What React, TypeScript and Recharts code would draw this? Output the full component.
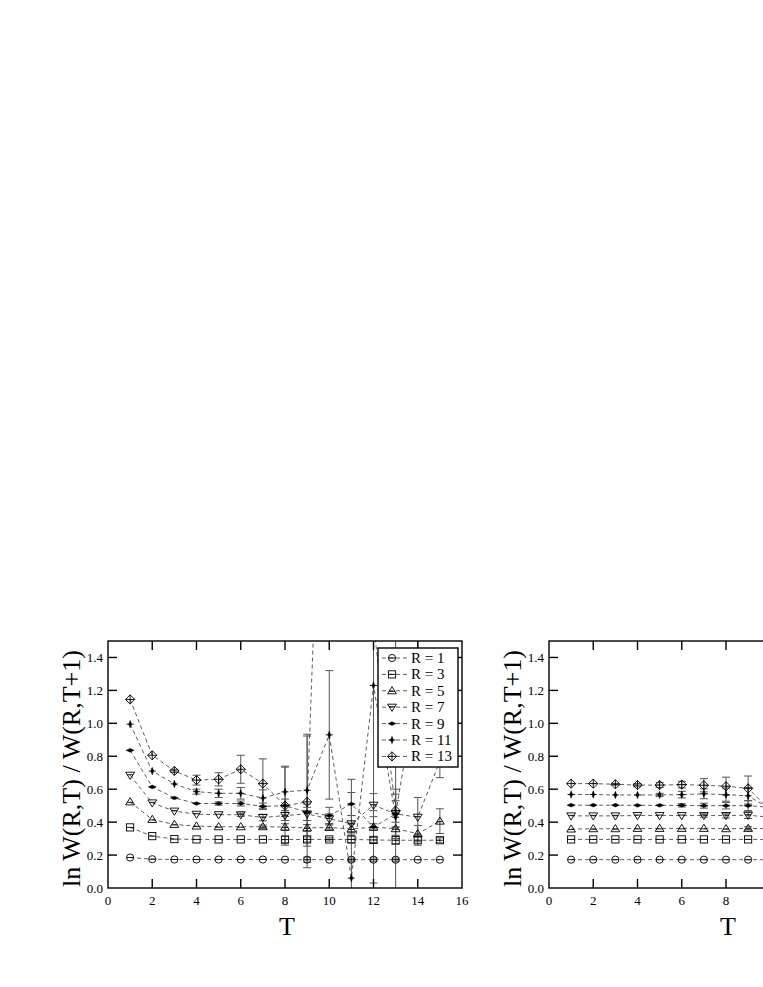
import React from "react";
import { LineChart, Line, XAxis, YAxis, ErrorBar } from "recharts";

// ---- data ----
const T_LEFT = [1, 2, 3, 4, 5, 6, 7, 8, 9, 10, 11, 12, 13, 14, 15];
const LEFT_R1 = [0.185, 0.175, 0.173, 0.173, 0.173, 0.173, 0.173, 0.172, 0.172, 0.172, 0.172, 0.172, 0.172, 0.172, 0.172];
const LEFT_R3 = [0.368, 0.315, 0.297, 0.295, 0.295, 0.295, 0.295, 0.294, 0.295, 0.295, 0.295, 0.292, 0.29, 0.29, 0.29];
const LEFT_R5 = [0.523, 0.416, 0.386, 0.376, 0.372, 0.372, 0.372, 0.37, 0.365, 0.368, 0.358, 0.37, 0.36, 0.33, 0.406];
const LEFT_R7 = [0.685, 0.517, 0.467, 0.448, 0.445, 0.445, 0.428, 0.44, 0.45, 0.42, 0.39, 0.503, 0.45, 0.43, 0.77];
const LEFT_R9 = [0.836, 0.614, 0.547, 0.513, 0.513, 0.513, 0.496, 0.5, 0.46, 0.44, 0.51, 0.37, 0.45, 1.25, null];
const LEFT_R11 = [0.995, 0.71, 0.632, 0.585, 0.575, 0.575, 0.546, 0.584, 0.594, 0.93, 0.06, 1.23, 0.43, null, null];
const LEFT_R13 = [1.145, 0.806, 0.711, 0.655, 0.66, 0.721, 0.634, 0.5, 0.523, 4.1, null, 1.6, 0.47, null, null];

const LEFT_E1 = [0, 0, 0, 0, 0, 0, 0, 0, 0.015, 0, 0.01, 0.01, 0.01, 0, 0];
const LEFT_E3 = [0, 0, 0, 0, 0, 0, 0, 0.02, 0.015, 0.01, 0.02, 0.015, 0.025, 0.03, 0.015];
const LEFT_E5 = [0, 0, 0, 0, 0, 0, 0.01, 0.02, 0.02, 0.015, 0.03, 0.02, 0.04, 0.05, 0.075];
const LEFT_E7 = [0, 0, 0, 0, 0, 0.01, 0.02, 0.03, 0.04, 0.03, 0.05, 0.07, 0.08, 0.12, 0.1];
const LEFT_E9 = [0, 0, 0, 0, 0.01, 0.015, 0.02, 0.04, 0.05, 0.05, 0.07, 0.1, 0.15, 0.3, null];
const LEFT_E11 = [0, 0, 0, 0.015, 0.025, 0.035, 0.05, 0.15, 0.34, 0.39, 0.6, 1.2, 1.2, null, null];
const LEFT_E13 = [0, 0, 0.01, 0.03, 0.04, 0.085, 0.15, 0.24, 0.4, 0, null, 0, 0.1, null, null];

const T_RIGHT = [1, 2, 3, 4, 5, 6, 7, 8, 9, 10];
const RIGHT_R1 = [0.172, 0.172, 0.172, 0.172, 0.172, 0.172, 0.172, 0.172, 0.172, 0.172];
const RIGHT_R3 = [0.295, 0.295, 0.295, 0.295, 0.295, 0.295, 0.295, 0.295, 0.295, 0.295];
const RIGHT_R5 = [0.358, 0.36, 0.36, 0.362, 0.362, 0.362, 0.362, 0.36, 0.362, 0.36];
const RIGHT_R7 = [0.438, 0.438, 0.438, 0.44, 0.44, 0.44, 0.44, 0.44, 0.442, 0.43];
const RIGHT_R9 = [0.503, 0.503, 0.503, 0.502, 0.502, 0.502, 0.5, 0.5, 0.5, 0.49];
const RIGHT_R11 = [0.568, 0.568, 0.565, 0.565, 0.565, 0.567, 0.572, 0.567, 0.56, 0.48];
const RIGHT_R13 = [0.634, 0.634, 0.63, 0.625, 0.625, 0.628, 0.624, 0.618, 0.605, 0.47];

const RIGHT_E1 = [0, 0, 0, 0, 0, 0, 0, 0, 0, 0];
const RIGHT_E3 = [0, 0, 0, 0, 0, 0, 0, 0, 0, 0];
const RIGHT_E5 = [0, 0, 0, 0, 0, 0, 0, 0, 0.01, 0.02];
const RIGHT_E7 = [0, 0, 0, 0, 0, 0, 0.01, 0.015, 0.02, 0.03];
const RIGHT_E9 = [0, 0, 0, 0, 0, 0.01, 0.015, 0.02, 0.03, 0.04];
const RIGHT_E11 = [0, 0, 0, 0, 0.01, 0.02, 0.03, 0.04, 0.05, 0.06];
const RIGHT_E13 = [0, 0, 0.005, 0.01, 0.015, 0.02, 0.04, 0.055, 0.075, 0.09];

const X_TICKS = [0, 2, 4, 6, 8, 10, 12, 14, 16];
const Y_TICKS = [0, 0.2, 0.4, 0.6, 0.8, 1.0, 1.2, 1.4];
const X_DOMAIN = [0, 16];
const Y_DOMAIN = [0, 1.5];
const Y_TITLE = "ln W(R,T) / W(R,T+1)";
const X_TITLE = "T";

const SERIES = [
  { key: "r1", name: "R = 1", shape: "circle" },
  { key: "r3", name: "R = 3", shape: "square" },
  { key: "r5", name: "R = 5", shape: "up" },
  { key: "r7", name: "R = 7", shape: "down" },
  { key: "r9", name: "R = 9", shape: "flat" },
  { key: "r11", name: "R = 11", shape: "tall" },
  { key: "r13", name: "R = 13", shape: "diamond" },
];

const buildRows = (ts: number[], values: (number | null)[][], errors: (number | null)[][]) =>
  ts.map((t, i) => {
    const row: any = { T: t };
    SERIES.forEach((s, k) => {
      row[s.key] = values[k][i];
      row["e_" + s.key] = errors[k][i];
    });
    return row;
  });

const leftRows = buildRows(
  T_LEFT,
  [LEFT_R1, LEFT_R3, LEFT_R5, LEFT_R7, LEFT_R9, LEFT_R11, LEFT_R13],
  [LEFT_E1, LEFT_E3, LEFT_E5, LEFT_E7, LEFT_E9, LEFT_E11, LEFT_E13]
);
const rightRows = buildRows(
  T_RIGHT,
  [RIGHT_R1, RIGHT_R3, RIGHT_R5, RIGHT_R7, RIGHT_R9, RIGHT_R11, RIGHT_R13],
  [RIGHT_E1, RIGHT_E3, RIGHT_E5, RIGHT_E7, RIGHT_E9, RIGHT_E11, RIGHT_E13]
);

const INK = "#000";
const FONT = "'Liberation Serif', 'DejaVu Serif', serif";

function Marker({ shape, cx, cy }: { shape: string; cx: number; cy: number }) {
  const st = { fill: "none", stroke: INK, strokeWidth: 0.9 };
  const hl = (w: number, dy = 0) => (
    <line x1={cx - w} x2={cx + w} y1={cy + dy} y2={cy + dy} stroke={INK} strokeWidth={0.9} />
  );
  switch (shape) {
    case "circle":
      return (
        <g>
          <circle cx={cx} cy={cy} r={3.6} {...st} />
          {hl(3.6)}
        </g>
      );
    case "square":
      return (
        <g>
          <rect x={cx - 3.6} y={cy - 3.6} width={7.2} height={7.2} {...st} />
          {hl(3.6)}
        </g>
      );
    case "up":
      return (
        <g>
          <polygon points={`${cx},${cy - 4.2} ${cx + 4.4},${cy + 3} ${cx - 4.4},${cy + 3}`} {...st} />
          {hl(3, 0.5)}
        </g>
      );
    case "down":
      return (
        <g>
          <polygon points={`${cx - 4.4},${cy - 3} ${cx + 4.4},${cy - 3} ${cx},${cy + 4.2}`} {...st} />
          {hl(3, -0.5)}
        </g>
      );
    case "flat":
      return (
        <polygon
          points={`${cx - 4},${cy} ${cx},${cy - 1.8} ${cx + 4},${cy} ${cx},${cy + 1.8}`}
          fill={INK}
          stroke={INK}
          strokeWidth={0.5}
        />
      );
    case "tall":
      return (
        <g>
          <polygon
            points={`${cx},${cy - 3.8} ${cx + 1.5},${cy} ${cx},${cy + 3.8} ${cx - 1.5},${cy}`}
            fill={INK}
            stroke={INK}
            strokeWidth={0.4}
          />
          {hl(3.5)}
        </g>
      );
    default:
      return (
        <g>
          <polygon points={`${cx},${cy - 4.6} ${cx + 4.6},${cy} ${cx},${cy + 4.6} ${cx - 4.6},${cy}`} {...st} />
          {hl(4.6)}
          <line x1={cx} x2={cx} y1={cy - 4.6} y2={cy + 4.6} stroke={INK} strokeWidth={0.9} />
        </g>
      );
  }
}

const dotFor = (shape: string) => (p: any) => {
  const k = `${shape}-${p.index}`;
  if (p.cx == null || p.cy == null || p.value == null) return <g key={k} />;
  return (
    <g key={k}>
      <Marker shape={shape} cx={p.cx} cy={p.cy} />
    </g>
  );
};

// panel geometry (plot box inside each panel: x 108..462, y 21..268)
const PW = 480;
const PH = 340;
const M = { top: 21, right: 18, bottom: 42, left: 48 };
const PLOT_L = 108;
const PLOT_R = 462;
const PLOT_T = 21;
const PLOT_B = 268;
const TICK_PX = 9;

// x tick: label below the frame, inward marks on the bottom and top edges,
// placed at the coordinate the library's scale gives for the tick
const makeXTick = (labelMax: number) => (p: any) => {
  const c = p.payload?.coordinate ?? p.x;
  const v = p.payload?.value;
  const edge = v === X_DOMAIN[0] || v === X_DOMAIN[1];
  return (
    <g key={`xt-${v}`}>
      {!edge && (
        <>
          <line x1={c} x2={c} y1={PLOT_B} y2={PLOT_B - TICK_PX} stroke={INK} strokeWidth={1.4} />
          <line x1={c} x2={c} y1={PLOT_T} y2={PLOT_T + TICK_PX} stroke={INK} strokeWidth={1.4} />
        </>
      )}
      {v <= labelMax && (
        <text x={c} y={PLOT_B + 17} textAnchor="middle" fontFamily={FONT} fontSize={13} fill={INK}>
          {String(v)}
        </text>
      )}
    </g>
  );
};

// y tick: label left of the frame, inward marks on the left and right edges
const yTick = (p: any) => {
  const c = p.payload?.coordinate ?? p.y;
  const v = p.payload?.value;
  const edge = v === Y_DOMAIN[0];
  return (
    <g key={`yt-${v}`}>
      {!edge && (
        <>
          <line x1={PLOT_L} x2={PLOT_L + TICK_PX} y1={c} y2={c} stroke={INK} strokeWidth={1.4} />
          <line x1={PLOT_R} x2={PLOT_R - TICK_PX} y1={c} y2={c} stroke={INK} strokeWidth={1.4} />
        </>
      )}
      <text x={PLOT_L - 5} y={c + 4.5} textAnchor="end" fontFamily={FONT} fontSize={13} fill={INK}>
        {Number(v).toFixed(1)}
      </text>
    </g>
  );
};

function Legend() {
  const x0 = 378;
  const y0 = 28;
  const step = 16.4;
  return (
    <g>
      <rect x={x0} y={y0} width={80} height={119} fill="#fff" stroke={INK} strokeWidth={1.4} />
      {SERIES.map((s, i) => {
        const cy = y0 + 10 + i * step;
        return (
          <g key={s.key}>
            <line x1={x0 + 4} x2={x0 + 30} y1={cy} y2={cy} stroke="#333" strokeWidth={0.8} strokeDasharray="4 3" />
            <Marker shape={s.shape} cx={x0 + 14} cy={cy} />
            <text x={x0 + 33} y={cy + 5} fontFamily={FONT} fontSize={15} fill={INK}>
              {s.name}
            </text>
          </g>
        );
      })}
    </g>
  );
}

function Panel({
  left,
  rows,
  legend,
  labelMax = 16,
}: {
  left: number;
  rows: any[];
  legend?: boolean;
  labelMax?: number;
}) {
  return (
    <div style={{ position: "absolute", left, top: 620, width: PW, height: PH }}>
      <LineChart width={PW} height={PH} data={rows} margin={M}>
        <XAxis
          xAxisId="b"
          dataKey="T"
          type="number"
          domain={X_DOMAIN}
          ticks={X_TICKS}
          interval={0}
          allowDataOverflow
          height={30}
          tickLine={false}
          tick={makeXTick(labelMax)}
          axisLine={false}
        />
        <YAxis
          yAxisId="l"
          type="number"
          domain={Y_DOMAIN}
          ticks={Y_TICKS}
          interval={0}
          allowDataOverflow
          width={60}
          tickLine={false}
          tick={yTick}
          axisLine={false}
        />
        {SERIES.map((s) => (
          <Line
            key={s.key}
            xAxisId="b"
            yAxisId="l"
            type="linear"
            dataKey={s.key}
            stroke="#333"
            strokeWidth={0.8}
            strokeDasharray="4 3"
            dot={dotFor(s.shape)}
            activeDot={false}
            isAnimationActive={false}
          >
            <ErrorBar
              dataKey={"e_" + s.key}
              direction="y"
              width={4}
              stroke="#555"
              strokeWidth={1}
              isAnimationActive={false}
            />
          </Line>
        ))}
      </LineChart>
      <svg width={PW} height={PH} style={{ position: "absolute", left: 0, top: 0, pointerEvents: "none" }}>
        <rect
          x={PLOT_L}
          y={PLOT_T}
          width={PLOT_R - PLOT_L}
          height={PLOT_B - PLOT_T}
          fill="none"
          stroke={INK}
          strokeWidth={1.4}
        />
        <text
          x={80}
          y={(PLOT_T + PLOT_B) / 2 + 4}
          transform={`rotate(-90 80 ${(PLOT_T + PLOT_B) / 2 + 4})`}
          textAnchor="middle"
          fontFamily={FONT}
          fontSize={26}
          fill={INK}
        >
          {Y_TITLE}
        </text>
        <text x={(PLOT_L + PLOT_R) / 2 + 2} y={315} textAnchor="middle" fontFamily={FONT} fontSize={26} fill={INK}>
          {X_TITLE}
        </text>
        {legend && <Legend />}
      </svg>
    </div>
  );
}

export default function App() {
  return (
    <div
      style={{
        position: "absolute",
        left: 0,
        top: 0,
        width: 763,
        height: 987,
        overflow: "hidden",
        background: "#fff",
      }}
    >
      <style>{`
        .recharts-errorBars, .recharts-errorBar { clip-path: url(#plot-clip); }
      `}</style>
      <svg width={0} height={0} style={{ position: "absolute" }}>
        <defs>
          <clipPath id="plot-clip" clipPathUnits="userSpaceOnUse">
            <rect x={PLOT_L} y={PLOT_T} width={PLOT_R - PLOT_L} height={PLOT_B - PLOT_T} />
          </clipPath>
        </defs>
      </svg>
      <Panel left={0} rows={leftRows} legend />
      <Panel left={441} rows={rightRows} labelMax={8} />
    </div>
  );
}
